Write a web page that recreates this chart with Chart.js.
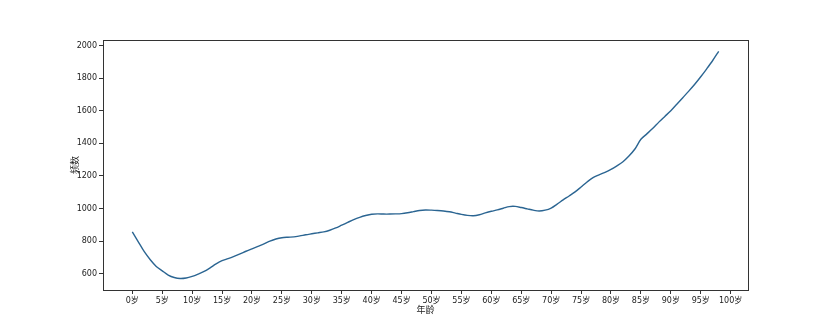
<!DOCTYPE html>
<html>
<head>
<meta charset="utf-8">
<script src="https://cdn.jsdelivr.net/npm/chart.js@4/dist/chart.umd.min.js"></script>
<style>
  html, body { margin: 0; padding: 0; background: #fff; }
  #wrap { width: 831px; height: 332px; }
</style>
</head>
<body>
<div id="wrap"><canvas id="lineChart"></canvas></div>
<script>
// ages 0..98
var ages = [];
for (var a = 0; a <= 98; a++) ages.push(a);
var counts = [
  857, 796, 735, 686, 645, 618, 592, 577, 571, 574,
  584, 598, 614, 636, 660, 680, 693, 707, 722, 738,
  753, 768, 783, 800, 813, 821, 824, 826, 832, 839,
  845, 851, 857, 867, 881, 898, 915, 932, 946, 957,
  965, 967, 966, 966, 967, 969, 974, 981, 988, 991,
  990, 988, 985, 980, 972, 964, 958, 956, 962, 973,
  983, 992, 1002, 1012, 1013, 1006, 998, 990, 985, 990,
  1003, 1027, 1053, 1077, 1102, 1132, 1163, 1190, 1207, 1222,
  1240, 1262, 1287, 1322, 1365, 1425, 1458, 1492, 1530, 1565,
  1600, 1640, 1680, 1720, 1762, 1808, 1857, 1908, 1964
];
var xTicks = [0, 5, 10, 15, 20, 25, 30, 35, 40, 45, 50, 55, 60, 65, 70, 75, 80, 85, 90, 95, 100];
var yTicks = [600, 800, 1000, 1200, 1400, 1600, 1800, 2000];

var points = ages.map(function (x, i) { return { x: x, y: counts[i] }; });

var fontFam = '"DejaVu Sans", "Noto Sans CJK SC", sans-serif';

// matplotlib-style box around the plot
var frame = {
  id: 'frame',
  afterDraw: function (chart) {
    var c = chart.ctx, a = chart.chartArea;
    c.save();
    c.strokeStyle = '#333';
    c.lineWidth = 1;
    c.strokeRect(Math.round(a.left) + 0.5, Math.round(a.top) + 0.5,
      Math.round(a.right - a.left), Math.round(a.bottom - a.top));
    c.restore();
  }
};

new Chart(document.getElementById('lineChart'), {
  type: 'line',
  data: {
    datasets: [{
      data: points,
      borderColor: '#2b6592',
      borderWidth: 1.4,
      pointRadius: 0,
      tension: 0.3,
      fill: false
    }]
  },
  options: {
    responsive: true,
    maintainAspectRatio: false,
    animation: false,
    layout: { padding: { top: 40, right: 83, left: 0, bottom: 0 } },
    plugins: { legend: { display: false }, tooltip: { enabled: false } },
    scales: {
      x: {
        type: 'linear',
        min: -4.9,
        max: 102.9,
        afterBuildTicks: function (s) { s.ticks = xTicks.map(function (v) { return { value: v }; }); },
        afterFit: function (s) { s.height = 42; },
        grid: { drawOnChartArea: false, drawTicks: true, tickLength: 4, color: '#333' },
        border: { display: false },
        ticks: {
          autoSkip: false, maxRotation: 0, padding: 2, color: '#222',
          font: { size: 8, family: fontFam },
          callback: function (v) { return v + '岁'; }
        },
        title: { display: true, text: '年龄', color: '#222', padding: { top: 0, bottom: 16 },
          font: { size: 9, family: fontFam } }
      },
      y: {
        min: 500.3,
        max: 2033.7,
        afterBuildTicks: function (s) { s.ticks = yTicks.map(function (v) { return { value: v }; }); },
        afterFit: function (s) { s.width = 103; },
        grid: { drawOnChartArea: false, drawTicks: true, tickLength: 4, color: '#333' },
        border: { display: false },
        ticks: {
          padding: 2, color: '#222', font: { size: 8, family: fontFam },
          callback: function (v) { return String(v); }
        },
        title: { display: true, text: '频数', color: '#222', padding: { bottom: 0, top: 70 },
          font: { size: 9, family: fontFam } }
      }
    }
  },
  plugins: [frame]
});
</script>
</body>
</html>
